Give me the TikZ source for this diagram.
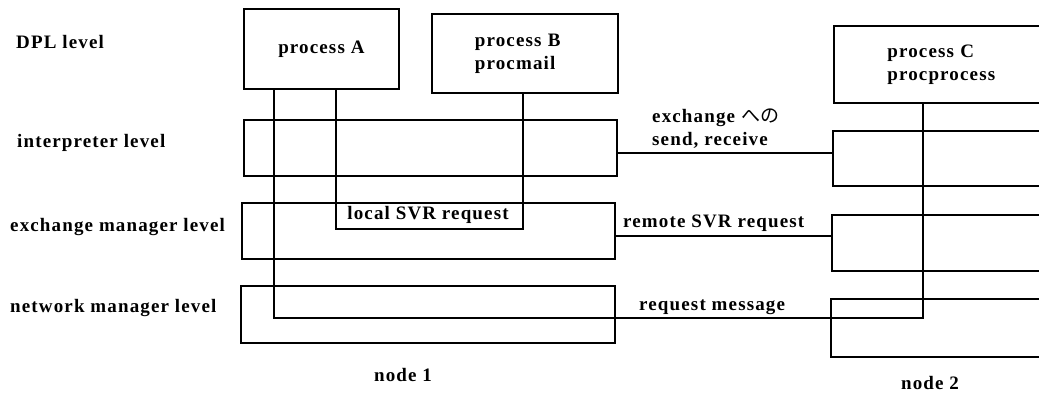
\documentclass[tikz,border=0pt]{standalone}
\usepackage{fontspec}
\setmainfont{Liberation Serif}[LetterSpace=6.0]
\newfontfamily\jp{Noto Sans CJK JP}
\begin{document}
\begin{tikzpicture}[x=1pt,y=-1pt,
  box/.style={draw, line width=1.8pt, inner sep=0pt, anchor=north west},
  txt/.style={font=\fontsize{19}{23}\selectfont\bfseries, inner sep=0pt},
  wire/.style={line width=1.8pt}]
\useasboundingbox (0,0) rectangle (1039,395);
\clip (0,0) rectangle (1039,395);
% level labels
\node[txt, anchor=west] (lDPL) at (16,42) {DPL level};
\node[txt, anchor=west] (lint) at (17,143) {interpreter level};
\node[txt, anchor=west] (lexc) at (10,227) {exchange manager level};
\node[txt, anchor=west] (lnet) at (10,308) {network manager level};
% process boxes
\node[box, txt, minimum width=155pt, minimum height=80pt] (pA) at (243,8) {process A};
\node[box, txt, minimum width=186pt, minimum height=79pt, text width=100pt, align=left] (pB) at (431,13) {process B\\procmail};
\node[box, txt, minimum width=217pt, minimum height=77pt, text width=110pt, align=left] (pC) at (833,25) {process C\\procprocess};
% level boxes node 1
\node[box, minimum width=373pt, minimum height=56pt] (i1) at (243,119) {};
\node[box, minimum width=373pt, minimum height=56pt] (e1) at (241,202) {};
\node[box, minimum width=374pt, minimum height=57pt] (n1) at (240,285) {};
% level boxes node 2
\node[box, minimum width=220pt, minimum height=55pt] (i2) at (832,130) {};
\node[box, minimum width=220pt, minimum height=56pt] (e2) at (831,214) {};
\node[box, minimum width=220pt, minimum height=58pt] (n2) at (830,298) {};
% helper coordinates
\coordinate (a1) at (274,0);
\coordinate (a2) at (336,0);
\coordinate (b2) at (523,0);
\coordinate (cx) at (923,0);
\coordinate (lo) at (0,229);
\coordinate (rq) at (0,318);
\coordinate (ci) at (0,153);
\coordinate (ce) at (0,236);
% wires
\draw[wire] (pA.south -| a1) |- (cx |- rq) -- (pC.south -| cx);
\draw[wire] (pA.south -| a2) |- (b2 |- lo) -- (pB.south -| b2);
\draw[wire] (i1.east |- ci) -- (i2.west |- ci);
\draw[wire] (e1.east |- ce) -- (e2.west |- ce);
% connector labels
\node[txt, anchor=west] (tex) at (652,118) {exchange {\jp\fontseries{m}\selectfont への}};
\node[txt, anchor=west] (tsr) at (652,140) {send, receive};
\node[txt, anchor=west] (trm) at (623,223) {remote SVR request};
\node[txt, anchor=west] (trq) at (639,307) {request message};
\node[txt] (tlo) at (428,215) {local SVR request};
% node labels
\node[txt] (nd1) at (403,375) {node 1};
\node[txt] (nd2) at (930,383) {node 2};
\end{tikzpicture}
\end{document}
